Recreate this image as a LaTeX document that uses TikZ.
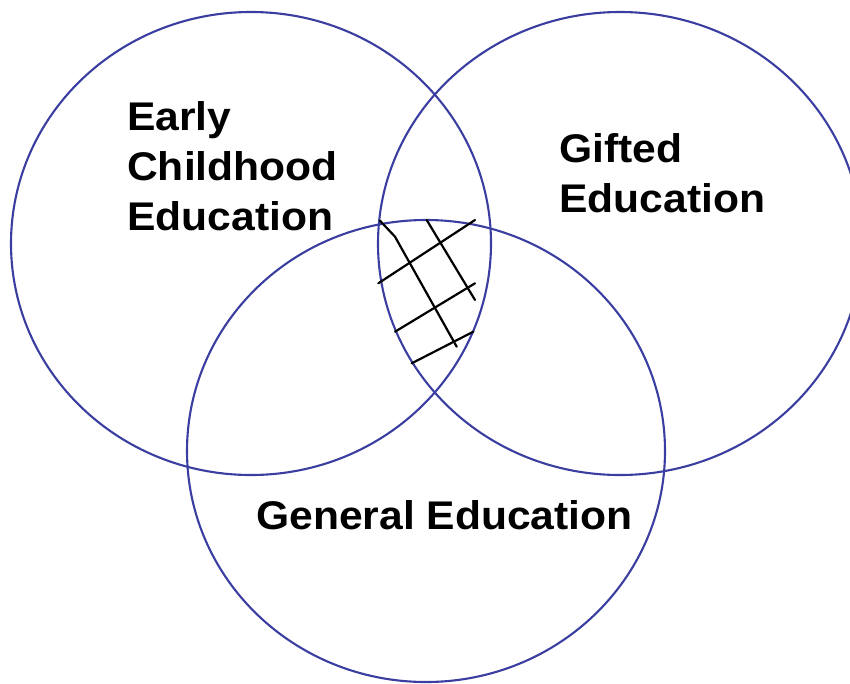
\documentclass[tikz,border=0pt]{standalone}
\usepackage{fontspec}
\setmainfont{Liberation Sans}
\begin{document}
\begin{tikzpicture}[x=1pt,y=-1pt,
  ring/.style={draw=ringblue,line width=2.1pt},
  hatch/.style={draw=black,line width=2.2pt,line cap=round,line join=round},
  label/.style={font=\fontsize{40}{50}\selectfont\bfseries,align=left,inner sep=0pt,xscale=1.065,transform shape}]
\definecolor{ringblue}{RGB}{58,62,160}
\useasboundingbox (0,0) rectangle (850,683);
% three overlapping fields
\draw[ring] (251,243.5) ellipse [x radius=240,y radius=231.5];
\draw[ring] (620,243.5) ellipse [x radius=242,y radius=231.5];
\draw[ring] (426,451) ellipse [x radius=239,y radius=231];
% cross-hatching of the common region
\draw[hatch] (380,220.7) -- (395,236.7) -- (456.7,346.7);
\draw[hatch] (426.7,220) -- (475,300);
\draw[hatch] (378.3,283.3) -- (475,220);
\draw[hatch] (395,331.7) -- (475,283.3);
\draw[hatch] (411.7,363.3) -- (473.3,331.7);
% labels
\node[label,anchor=base west] (early) at (127,130) {Early};
\node[label,anchor=base west] (child) at (127,180) {Childhood};
\node[label,anchor=base west] (edu1) at (127,230) {Education};
\node[label,anchor=base west] (gift) at (559,162) {Gifted};
\node[label,anchor=base west] (edu2) at (559,212) {Education};
\node[label,anchor=base west] (gen) at (256,529) {General Education};
\end{tikzpicture}
\end{document}
